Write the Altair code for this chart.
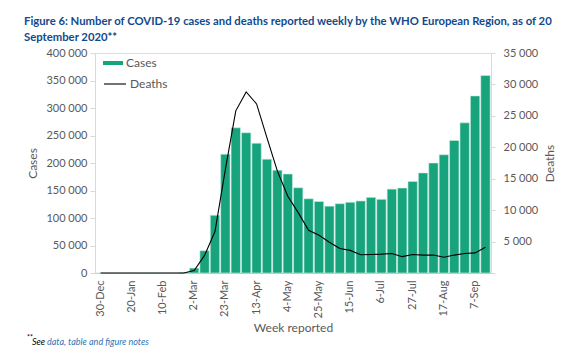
import altair as alt
import pandas as pd

weeks = ["30-Dec", "6-Jan", "13-Jan", "20-Jan", "27-Jan", "3-Feb", "10-Feb", "17-Feb",
         "24-Feb", "2-Mar", "9-Mar", "16-Mar", "23-Mar", "30-Mar", "6-Apr", "13-Apr",
         "20-Apr", "27-Apr", "4-May", "11-May", "18-May", "25-May", "1-Jun", "8-Jun",
         "15-Jun", "22-Jun", "29-Jun", "6-Jul", "13-Jul", "20-Jul", "27-Jul", "3-Aug",
         "10-Aug", "17-Aug", "24-Aug", "31-Aug", "7-Sep", "14-Sep"]
cases = [0, 0, 0, 0, 10, 20, 30, 100, 1200, 9000, 40500, 105000, 216000, 264000,
         255000, 236000, 207000, 187000, 180000, 155000, 135000, 130000, 121500, 126000,
         128500, 131000, 137500, 134000, 152500, 154500, 166500, 182000, 200000, 215000,
         241000, 273000, 322000, 359000]
deaths = [0, 0, 0, 0, 0, 0, 0, 0, 0, 400, 2800, 6600, 16500, 25800, 28800, 26900, 21500,
          16200, 12200, 9600, 6800, 6000, 4900, 3900, 3600, 2900, 2950, 3000, 3100, 2600,
          2950, 2850, 2850, 2500, 2850, 3100, 3200, 4100]
tick_weeks = weeks[::3]
case_ticks = list(range(0, 400001, 50000))
death_ticks = list(range(0, 35001, 5000))
series_names = ["Cases", "Deaths"]

title_lines = ["Figure 6: Number of COVID-19 cases and deaths reported weekly by the WHO European Region, as of 20",
               "September 2020**"]
note_mark = "**"
note_see = "See"
note_link = "data, table and figure notes"

df = pd.DataFrame({"week": weeks, "cases": cases, "deaths": deaths})

FONT = "Lato"
GREY = "#595959"
space_fmt = "replace(format(datum.value, ','), regexp(',', 'g'), ' ')"

x_enc = alt.X(
    "week:N", sort=weeks,
    scale=alt.Scale(paddingInner=0.1, paddingOuter=0.08),
    axis=alt.Axis(values=tick_weeks, labelAngle=270, ticks=False, domainColor="#bfbfbf",
                  labelColor=GREY, labelFontSize=11, labelPadding=7, labelFont=FONT,
                  title="Week reported", titleFont=FONT, titleFontSize=12,
                  titleFontWeight="normal", titleColor=GREY, titlePadding=5),
)

bars = alt.Chart(df).transform_calculate(series="'%s'" % series_names[0]).mark_bar(
    stroke="#cdeee2", strokeWidth=0.6
).encode(
    x=x_enc,
    y=alt.Y("cases:Q", scale=alt.Scale(domain=[0, 400000]),
            axis=alt.Axis(values=case_ticks, labelExpr=space_fmt, grid=False,
                          domainColor="#d9d9d9", tickColor="#d9d9d9", tickSize=5,
                          labelColor=GREY, labelFontSize=11, labelFont=FONT, labelPadding=3,
                          title="Cases", titleFont=FONT, titleFontSize=12,
                          titleFontWeight="normal", titleColor=GREY, titlePadding=6)),
    fill=alt.Fill("series:N", scale=alt.Scale(domain=[series_names[0]], range=["#17A37C"]),
                  legend=alt.Legend(title=None, orient="none", legendX=8, legendY=0,
                                    symbolType="M-1,-0.2H1V0.2H-1Z", symbolSize=400,
                                    symbolStrokeWidth=0, labelFont=FONT,
                                    labelFontSize=12, labelColor=GREY, labelOffset=3)),
)

line = alt.Chart(df).transform_calculate(series="'%s'" % series_names[1]).mark_line(
    strokeWidth=1.1
).encode(
    x=x_enc,
    y=alt.Y("deaths:Q", scale=alt.Scale(domain=[0, 35000]),
            axis=alt.Axis(orient="right", values=death_ticks,
                          labelExpr="datum.value == 0 ? '' : " + space_fmt, grid=False,
                          domainColor="#d9d9d9", tickColor="#d9d9d9", tickSize=4,
                          labelColor=GREY, labelFontSize=11, labelFont=FONT, labelPadding=8,
                          title="Deaths", titleAngle=270, titleFont=FONT, titleFontSize=12,
                          titleFontWeight="normal", titleColor=GREY, titlePadding=19)),
    stroke=alt.Stroke("series:N", scale=alt.Scale(domain=[series_names[1]], range=["#000000"]),
                      legend=alt.Legend(title=None, orient="none", legendX=8, legendY=19,
                                        symbolType="stroke", symbolSize=484,
                                        symbolStrokeWidth=1.1, labelFont=FONT,
                                        labelFontSize=12, labelColor=GREY, labelOffset=3)),
)

note1 = alt.Chart(pd.DataFrame({"t": [note_mark]})).mark_text(
    align="left", baseline="middle", font=FONT, fontSize=7, color="#000000"
).encode(text="t:N", x=alt.value(-68), y=alt.value(285))
note2 = alt.Chart(pd.DataFrame({"t": [note_see]})).mark_text(
    align="left", baseline="middle", font=FONT, fontSize=9, fontStyle="italic", color="#000000"
).encode(text="t:N", x=alt.value(-63), y=alt.value(289))
note3 = alt.Chart(pd.DataFrame({"t": [note_link]})).mark_text(
    align="left", baseline="middle", font=FONT, fontSize=9, fontStyle="italic", color="#2E75B6"
).encode(text="t:N", x=alt.value(-48), y=alt.value(289))

chart = alt.layer(bars, line, note1, note2, note3).resolve_scale(
    y="independent"
).properties(
    width=396, height=220,
    title=alt.Title(text=title_lines, anchor="start", frame="group", dx=-71, offset=4,
                    font=FONT, fontSize=11.3, fontWeight="bold", color="#12498C",
                    lineHeight=16),
    autosize=alt.AutoSizeParams(type="none"),
    padding={"left": 87, "top": 45, "right": 83, "bottom": 74},
).configure_view(stroke=None).configure(background="white")

chart.save("out.html", embed_options={"renderer": "svg", "actions": False})
